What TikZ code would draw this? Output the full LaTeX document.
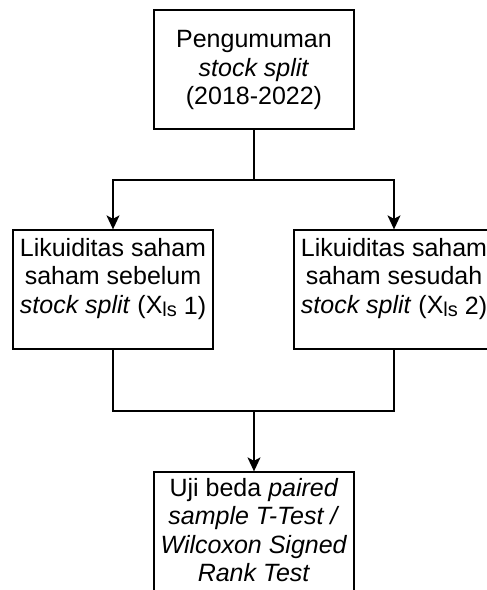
\documentclass[tikz,border=0pt]{standalone}
\usepackage{fontspec}
\setmainfont{Liberation Sans}
\usetikzlibrary{arrows.meta}
\newcommand{\lssub}{\raisebox{-3pt}{\fontsize{20}{20}\selectfont ls}}
\begin{document}
\begin{tikzpicture}[x=1pt,y=-1pt,
  box/.style={draw, line width=1.3pt, minimum width=200pt, minimum height=119pt, inner sep=0pt},
  lbl/.style={align=center, font=\fontsize{25}{28.5}\selectfont, inner sep=0pt},
  conn/.style={line width=1.3pt},
  arr/.style={conn, -{Stealth[length=14pt,width=13pt,inset=3.5pt]}}]
\useasboundingbox (0,0) rectangle (487,590);
\clip (0,0) rectangle (487,590);
\fill[white] (0,0) rectangle (487,590);
% boxes
\node[box] (top) at (254,69.5) {};
\node[box] (lbox) at (113,289.5) {};
\node[box] (rbox) at (394,289.5) {};
\node[box] (bot) at (254,531.5) {};
% labels
\node[lbl] (ttop) at (254,70) {Pengumuman\\ \textit{stock split}\\ (2018-2022)};
\node[lbl] (tl) at (113,279) {Likuiditas saham\\ saham sebelum\\ \textit{stock split} (X\lssub\ \raisebox{-1.5pt}{1)}};
\node[lbl] (tr) at (394,279) {Likuiditas saham\\ saham sesudah\\ \textit{stock split} (X\lssub\ \raisebox{-1.5pt}{2)}};
\node[lbl] (tb) at (254,530) {Uji beda \textit{paired}\\ \textit{sample T-Test /}\\ \textit{Wilcoxon Signed}\\ \textit{Rank Test}};
% connectors
\coordinate (j1) at (254,180);
\coordinate (j2) at (254,411);
\draw[conn] (top.south) -- (j1);
\draw[arr] (j1) -| (lbox.north);
\draw[arr] (j1) -| (rbox.north);
\draw[conn] (lbox.south) |- (j2);
\draw[conn] (rbox.south) |- (j2);
\draw[arr] (j2) -- (bot.north);
\end{tikzpicture}
\end{document}
